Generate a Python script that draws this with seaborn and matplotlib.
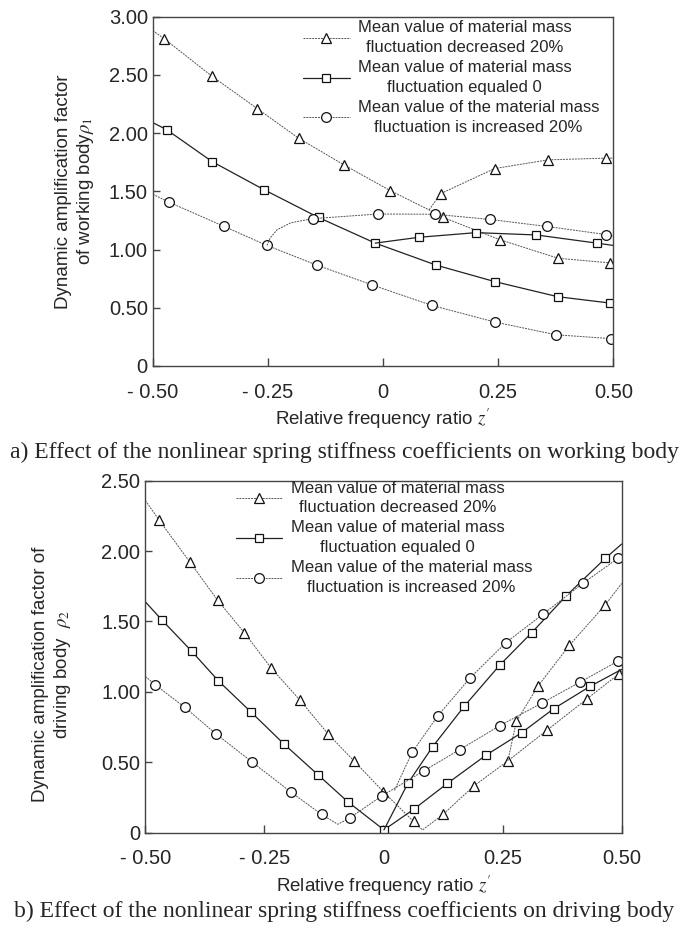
import numpy as np
import matplotlib
matplotlib.use("Agg")
import matplotlib.pyplot as plt
from matplotlib.lines import Line2D
import seaborn as sns

# ---- panel a) working body: each branch = x, y, indices carrying a marker
tri_a1_x = [-0.5, -0.475, -0.372, -0.273, -0.183, -0.084, 0.016, 0.10, 0.131, 0.253, 0.38, 0.493, 0.5]
tri_a1_y = [2.88, 2.81, 2.49, 2.21, 1.955, 1.725, 1.505, 1.34, 1.275, 1.085, 0.925, 0.885, 0.885]
tri_a1_m = [1, 2, 3, 4, 5, 6, 8, 9, 10, 11]
tri_a2_x = [0.10, 0.125, 0.242, 0.358, 0.485, 0.5]
tri_a2_y = [1.34, 1.48, 1.695, 1.77, 1.785, 1.785]
tri_a2_m = [1, 2, 3, 4]

sq_a1_x = [-0.5, -0.47, -0.371, -0.259, -0.14, -0.017, 0.116, 0.242, 0.379, 0.493, 0.5]
sq_a1_y = [2.09, 2.03, 1.755, 1.515, 1.275, 1.055, 0.865, 0.725, 0.595, 0.54, 0.535]
sq_a1_m = [1, 2, 3, 4, 5, 6, 7, 8, 9]
sq_a2_x = [-0.017, 0.078, 0.202, 0.333, 0.464, 0.5]
sq_a2_y = [1.055, 1.105, 1.145, 1.125, 1.055, 1.035]
sq_a2_m = [1, 2, 3, 4]

cir_a1_x = [-0.5, -0.464, -0.346, -0.252, -0.143, -0.023, 0.106, 0.242, 0.375, 0.494, 0.5]
cir_a1_y = [1.475, 1.405, 1.2, 1.035, 0.865, 0.695, 0.52, 0.378, 0.268, 0.235, 0.233]
cir_a1_m = [1, 2, 3, 4, 5, 6, 7, 8, 9]
cir_a2_x = [-0.252, -0.245, -0.23, -0.2, -0.153, -0.011, 0.112, 0.233, 0.356, 0.485, 0.5]
cir_a2_y = [1.035, 1.1, 1.17, 1.23, 1.265, 1.305, 1.303, 1.258, 1.198, 1.128, 1.115]
cir_a2_m = [4, 5, 6, 7, 8, 9]

# ---- panel b) driving body
tri_b1_x = [-0.5, -0.471, -0.406, -0.348, -0.292, -0.236, -0.175, -0.116, -0.062, 0.0,
            0.063, 0.082, 0.125, 0.189, 0.261, 0.344, 0.427, 0.495, 0.5]
tri_b1_y = [2.36, 2.22, 1.92, 1.65, 1.42, 1.17, 0.94, 0.70, 0.51, 0.29,
            0.08, 0.02, 0.13, 0.33, 0.51, 0.73, 0.95, 1.13, 1.15]
tri_b1_m = [1, 2, 3, 4, 5, 6, 7, 8, 9, 10, 12, 13, 14, 15, 16, 17]
tri_b2_x = [0.261, 0.279, 0.324, 0.39, 0.466, 0.5]
tri_b2_y = [0.51, 0.79, 1.04, 1.33, 1.62, 1.77]
tri_b2_m = [1, 2, 3, 4]

sq_b1_x = [-0.5, -0.465, -0.403, -0.347, -0.279, -0.209, -0.137, -0.075, 0.001,
           0.063, 0.134, 0.215, 0.29, 0.357, 0.434, 0.5]
sq_b1_y = [1.64, 1.51, 1.29, 1.08, 0.86, 0.63, 0.41, 0.22, 0.02,
           0.165, 0.35, 0.55, 0.71, 0.88, 1.04, 1.16]
sq_b1_m = [1, 2, 3, 4, 5, 6, 7, 8, 9, 10, 11, 12, 13, 14]
sq_b2_x = [0.001, 0.051, 0.103, 0.17, 0.244, 0.311, 0.383, 0.466, 0.5]
sq_b2_y = [0.02, 0.35, 0.61, 0.90, 1.19, 1.42, 1.68, 1.95, 2.05]
sq_b2_m = [1, 2, 3, 4, 5, 6, 7]

cir_b1_x = [-0.5, -0.479, -0.417, -0.351, -0.275, -0.195, -0.13, -0.096, -0.071, -0.004,
            0.085, 0.16, 0.244, 0.332, 0.413, 0.493, 0.5]
cir_b1_y = [1.11, 1.05, 0.89, 0.70, 0.50, 0.29, 0.13, 0.06, 0.105, 0.26,
            0.44, 0.59, 0.76, 0.92, 1.07, 1.22, 1.23]
cir_b1_m = [1, 2, 3, 4, 5, 6, 8, 9, 10, 11, 12, 13, 14, 15]
cir_b2_x = [0.023, 0.06, 0.114, 0.182, 0.257, 0.334, 0.418, 0.493, 0.5]
cir_b2_y = [0.30, 0.57, 0.83, 1.10, 1.35, 1.55, 1.77, 1.95, 1.96]
cir_b2_m = [1, 2, 3, 4, 5, 6, 7]

series_labels = ["Mean value of material mass\nfluctuation decreased 20%",
                 "Mean value of material mass\nfluctuation equaled 0",
                 "Mean value of the material mass\nfluctuation is increased 20%"]
x_ticks = [-0.5, -0.25, 0, 0.25, 0.5]
x_ticklabels = ["- 0.50", "- 0.25", "0", "0.25", "0.50"]
ya_ticks = [0, 0.5, 1.0, 1.5, 2.0, 2.5, 3.0]
ya_ticklabels = ["0", "0.50", "1.00", "1.50", "2.00", "2.50", "3.00"]
yb_ticks = [0, 0.5, 1.0, 1.5, 2.0, 2.5]
yb_ticklabels = ["0", "0.50", "1.00", "1.50", "2.00", "2.50"]

sns.set_theme(style="ticks")
plt.rcParams["font.family"] = ["Liberation Sans", "DejaVu Sans"]
plt.rcParams["mathtext.fontset"] = "stix"

DOT = (0, (2.0, 1.0))
STYLES = {
    "tri": dict(marker="^", ls=DOT, lw=0.7, color="#555555", ms=7),
    "sq": dict(marker="s", ls="-", lw=0.9, color="#222222", ms=6),
    "cir": dict(marker="o", ls=DOT, lw=0.7, color="#555555", ms=7),
}


def draw_branch(ax, xs, ys, marks, kind):
    st = STYLES[kind]
    sns.lineplot(x=xs, y=ys, ax=ax, sort=False, estimator=None,
                 color=st["color"], lw=st["lw"], linestyle=st["ls"],
                 marker=st["marker"], markevery=marks, ms=st["ms"],
                 mfc="white", mec="#111111", mew=0.9)


def legend_handles():
    hs = []
    for kind in ["tri", "sq", "cir"]:
        st = STYLES[kind]
        hs.append(Line2D([0], [0], color=st["color"], lw=st["lw"], ls=st["ls"],
                         marker=st["marker"], ms=st["ms"], mfc="white",
                         mec="#111111", mew=0.9))
    return hs


def style_axes(ax, yticks, yticklabels, ylim):
    ax.set_xlim(-0.5, 0.5)
    ax.set_ylim(*ylim)
    ax.set_xticks(x_ticks)
    ax.set_xticklabels(x_ticklabels)
    ax.set_yticks(yticks)
    ax.set_yticklabels(yticklabels)
    ax.tick_params(axis="x", direction="in", length=6, width=1, pad=12,
                   labelsize=14.5, color="#444444")
    ax.tick_params(axis="y", direction="in", length=5, width=1, pad=3.5,
                   labelsize=14.5, color="#444444")
    for s in ax.spines.values():
        s.set_visible(True)
        s.set_color("#444444")
        s.set_linewidth(1.0)
    ax.set_xlabel("Relative frequency ratio $z'$", fontsize=13.5, labelpad=4)


fig = plt.figure(figsize=(6.88, 9.35), dpi=100)
ax1 = fig.add_axes([0.222, 0.6086, 0.6695, 0.3736])
ax2 = fig.add_axes([0.2112, 0.1094, 0.6924, 0.3765])

draw_branch(ax1, tri_a1_x, tri_a1_y, tri_a1_m, "tri")
draw_branch(ax1, tri_a2_x, tri_a2_y, tri_a2_m, "tri")
draw_branch(ax1, sq_a1_x, sq_a1_y, sq_a1_m, "sq")
draw_branch(ax1, sq_a2_x, sq_a2_y, sq_a2_m, "sq")
draw_branch(ax1, cir_a1_x, cir_a1_y, cir_a1_m, "cir")
draw_branch(ax1, cir_a2_x, cir_a2_y, cir_a2_m, "cir")

draw_branch(ax2, tri_b1_x, tri_b1_y, tri_b1_m, "tri")
draw_branch(ax2, tri_b2_x, tri_b2_y, tri_b2_m, "tri")
draw_branch(ax2, sq_b1_x, sq_b1_y, sq_b1_m, "sq")
draw_branch(ax2, sq_b2_x, sq_b2_y, sq_b2_m, "sq")
draw_branch(ax2, cir_b1_x, cir_b1_y, cir_b1_m, "cir")
draw_branch(ax2, cir_b2_x, cir_b2_y, cir_b2_m, "cir")

style_axes(ax1, ya_ticks, ya_ticklabels, (0, 3.0))
style_axes(ax2, yb_ticks, yb_ticklabels, (0, 2.5))

ax1.set_ylabel("Dynamic amplification factor\nof working body$\\rho_{1}$", fontsize=13.5)
ax1.yaxis.set_label_coords(-0.123, 0.5)
ax2.set_ylabel("Dynamic amplification factor of\ndriving body  $\\rho_{2}$", fontsize=13.5)
ax2.yaxis.set_label_coords(-0.152, 0.45)

for ax, anchor in [(ax1, (0.326, 0.99)), (ax2, (0.19, 1.0))]:
    leg = ax.legend(legend_handles(), series_labels, loc="upper left",
                    bbox_to_anchor=anchor, frameon=False, borderpad=0,
                    borderaxespad=0, handlelength=2.8, handletextpad=0.5,
                    labelspacing=0.3, fontsize=12)
    for t in leg.get_texts():
        t.set_multialignment("center")
        t.set_linespacing(1.4)

fig.text(0.5, 1 - 452 / 935, "a) Effect of the nonlinear spring stiffness coefficients on working body",
         ha="center", va="center", fontsize=17, family="Liberation Serif")
fig.text(0.5, 1 - 911 / 935, "b) Effect of the nonlinear spring stiffness coefficients on driving body",
         ha="center", va="center", fontsize=17, family="Liberation Serif")

fig.savefig("out.png", dpi=100)
